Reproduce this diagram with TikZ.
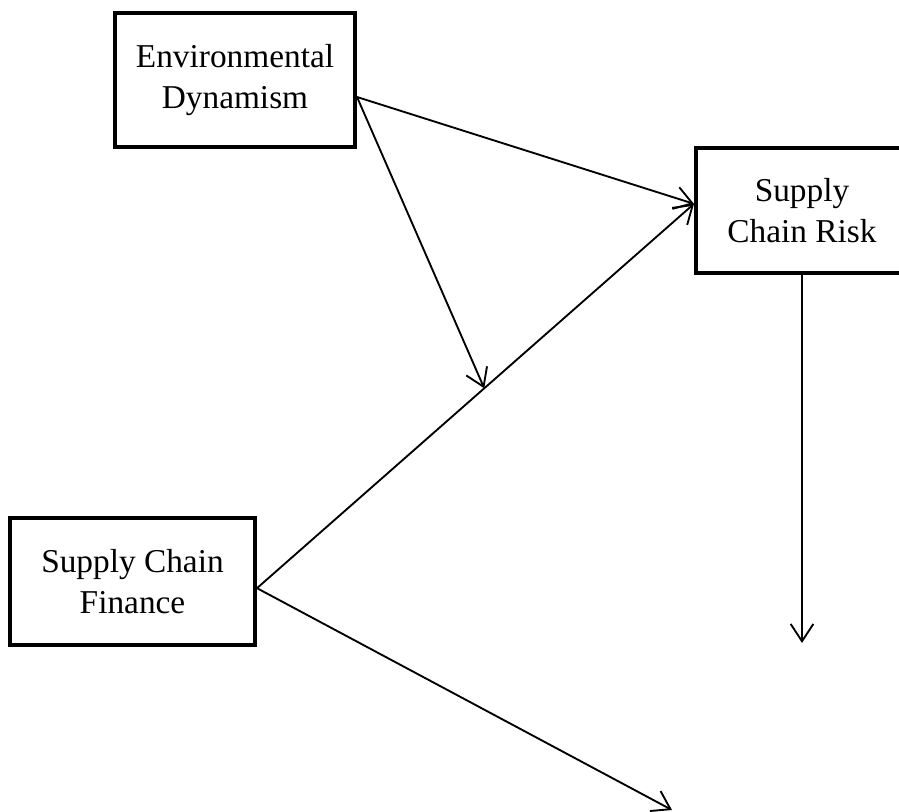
\documentclass[tikz,border=0pt]{standalone}
\usepackage{fontspec}
\setmainfont{Liberation Serif}
\usetikzlibrary{arrows.meta}

\begin{document}
\begin{tikzpicture}[x=0.75pt,y=-0.75pt,
    varbox/.style={draw, line width=3pt, align=center, inner sep=0pt,
      font=\fontsize{25}{31}\selectfont},
    path/.style={line width=1.4pt, -{Straight Barb[length=13pt,width=17pt,line width=1.4pt]}}]
    \useasboundingbox (0,0) rectangle (899,812);

    \node[varbox, minimum width=180pt, minimum height=100.5pt] (ed) at (235,80) {Environmental\\Dynamism};
    \node[varbox, minimum width=159pt, minimum height=93.75pt] (scr) at (802,210.5) {Supply\\Chain Risk};
    \node[varbox, minimum width=183.75pt, minimum height=95.25pt] (scf) at (132.5,581.5) {Supply Chain\\Finance};

    \coordinate (out1) at (802,643);
    \coordinate (out2) at (672,810);

    \draw[path] ([yshift=-5pt]scf.east) -- coordinate[pos=0.52] (mod) ([yshift=5pt]scr.west);
    \draw[path] ([yshift=-12.75pt]ed.east) -- ([yshift=5pt]scr.west);
    \draw[path] ([yshift=-12.75pt]ed.east) -- (mod);
    \draw[path] (scr.south) -- (out1);
    \draw[path] ([yshift=-5pt]scf.east) -- (out2);
  \end{tikzpicture}
\end{document}
